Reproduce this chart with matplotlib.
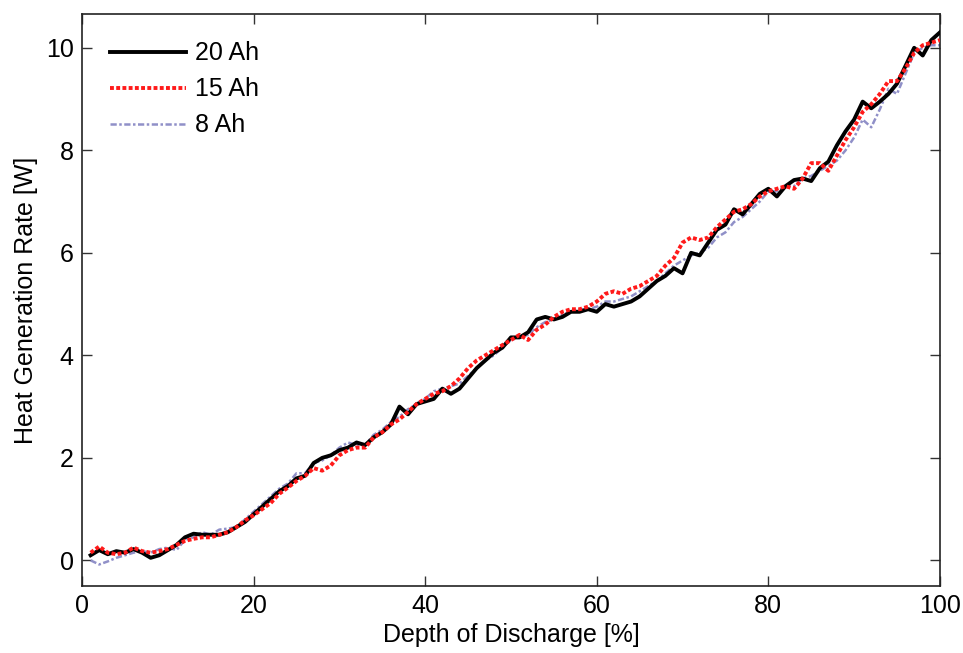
import numpy as np
import matplotlib.pyplot as plt

plt.rcParams['font.family'] = ['Liberation Sans', 'DejaVu Sans']

# Depth of discharge (%)
dod = np.arange(1, 101)

# Heat generation rate [W] for each cell capacity
heat_20ah = [0.10, 0.20, 0.12, 0.18, 0.15, 0.22, 0.15, 0.05, 0.10, 0.20,
             0.30, 0.45, 0.52, 0.50, 0.50, 0.50, 0.55, 0.65, 0.75, 0.90,
             1.05, 1.20, 1.35, 1.45, 1.60, 1.65, 1.90, 2.00, 2.05, 2.15,
             2.20, 2.30, 2.25, 2.40, 2.50, 2.65, 3.00, 2.85, 3.05, 3.10,
             3.15, 3.35, 3.25, 3.35, 3.55, 3.75, 3.90, 4.05, 4.15, 4.35,
             4.35, 4.45, 4.70, 4.75, 4.70, 4.75, 4.85, 4.85, 4.90, 4.85,
             5.00, 4.95, 5.00, 5.05, 5.15, 5.30, 5.45, 5.55, 5.70, 5.60,
             6.00, 5.95, 6.20, 6.45, 6.55, 6.85, 6.75, 6.95, 7.15, 7.25,
             7.10, 7.30, 7.42, 7.45, 7.40, 7.65, 7.78, 8.10, 8.37, 8.60,
             8.95, 8.82, 8.95, 9.10, 9.30, 9.65, 10.00, 9.85, 10.15, 10.30]

heat_15ah = [0.15, 0.27, 0.15, 0.12, 0.15, 0.25, 0.18, 0.15, 0.18, 0.22,
             0.30, 0.38, 0.42, 0.45, 0.45, 0.50, 0.55, 0.65, 0.78, 0.88,
             1.00, 1.12, 1.30, 1.42, 1.55, 1.65, 1.80, 1.75, 1.85, 2.05,
             2.15, 2.20, 2.20, 2.40, 2.50, 2.65, 2.75, 2.90, 3.05, 3.15,
             3.25, 3.30, 3.40, 3.55, 3.75, 3.90, 4.00, 4.10, 4.20, 4.30,
             4.40, 4.30, 4.50, 4.60, 4.75, 4.85, 4.90, 4.90, 4.95, 5.05,
             5.20, 5.25, 5.20, 5.30, 5.35, 5.45, 5.55, 5.75, 5.90, 6.20,
             6.30, 6.25, 6.30, 6.50, 6.65, 6.80, 6.85, 6.95, 7.10, 7.20,
             7.25, 7.30, 7.25, 7.45, 7.75, 7.75, 7.60, 7.90, 8.20, 8.45,
             8.75, 8.90, 9.10, 9.35, 9.35, 9.60, 9.90, 10.05, 10.10, 10.15]

heat_8ah = [0.00, -0.08, -0.02, 0.05, 0.10, 0.15, 0.18, 0.15, 0.22, 0.25,
            0.20, 0.40, 0.45, 0.55, 0.50, 0.60, 0.62, 0.65, 0.80, 0.95,
            1.10, 1.25, 1.40, 1.50, 1.70, 1.70, 1.90, 1.95, 2.05, 2.20,
            2.30, 2.25, 2.25, 2.45, 2.55, 2.70, 2.80, 2.95, 3.05, 3.15,
            3.30, 3.35, 3.40, 3.45, 3.60, 3.75, 3.90, 4.00, 4.15, 4.30,
            4.35, 4.40, 4.55, 4.65, 4.70, 4.80, 4.85, 4.90, 4.90, 4.95,
            5.05, 5.05, 5.10, 5.15, 5.25, 5.35, 5.45, 5.60, 5.75, 5.85,
            5.95, 6.00, 6.10, 6.30, 6.40, 6.60, 6.70, 6.85, 7.00, 7.20,
            7.20, 7.30, 7.30, 7.45, 7.50, 7.60, 7.70, 7.80, 8.00, 8.25,
            8.60, 8.45, 8.80, 9.20, 9.10, 9.50, 9.90, 10.00, 10.05, 10.05]

fig = plt.figure(figsize=(9.63, 6.53), dpi=100)
ax = fig.add_axes([0.0852, 0.1026, 0.8908, 0.876])

l8, = ax.plot(dod, heat_8ah, color='#9090c8', linewidth=1.8,
              dashes=(2.5, 1, 1, 1), zorder=2)
l20, = ax.plot(dod, heat_20ah, color='black', linewidth=2.8, zorder=3)
l15, = ax.plot(dod, heat_15ah, color='#ff1a1a', linewidth=2.8,
               linestyle=(0, (1, 0.6)), zorder=4)

ax.set_xlim(0, 100)
ax.set_ylim(-0.5, 10.66)
ax.set_xticks([0, 20, 40, 60, 80, 100])
ax.set_yticks([0, 2, 4, 6, 8, 10])
ax.tick_params(direction='in', top=True, right=True, labelsize=18,
               length=7, width=1, color='#333333', pad=6)
for s in ax.spines.values():
    s.set_linewidth(1.2)
    s.set_color('#222222')

ax.set_xlabel('Depth of Discharge [%]', fontsize=18, labelpad=3)
ax.set_ylabel('Heat Generation Rate [W]', fontsize=18, labelpad=6)

ax.legend([l20, l15, l8], ['20 Ah', '15 Ah', '8 Ah'], loc='upper left',
          frameon=False, fontsize=18, handlelength=3.05, handletextpad=0.35,
          labelspacing=0.48, borderaxespad=0.7, borderpad=0.4)

fig.savefig('out.png', dpi=100)
